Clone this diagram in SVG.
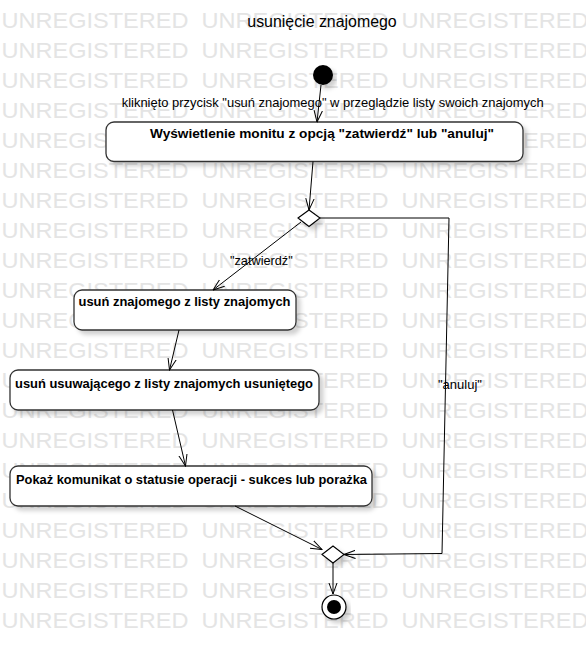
<svg xmlns="http://www.w3.org/2000/svg" width="586" height="659" viewBox="0 0 586 659">
<style>
text{font-family:"Liberation Sans",Arial,sans-serif;fill:#000}
#watermark text{font-size:22px;fill:#e4e4e4}
.title{font-size:16px}
.lbl{font-size:13px}
.act{font-size:13px;font-weight:bold}
.box{fill:#fff;stroke:#333;stroke-width:1.3}
.dia{fill:#fff;stroke:#000;stroke-width:1.1}
.edge{fill:none;stroke:#000;stroke-width:1;marker-end:url(#arr)}
</style>
<defs>
<filter id="sh" x="-10%" y="-20%" width="130%" height="160%">
<feDropShadow dx="4" dy="4" stdDeviation="2" flood-color="#000" flood-opacity="0.18"/>
</filter>
<marker id="arr" viewBox="0 0 12 10" refX="11.5" refY="5" markerWidth="12" markerHeight="10" markerUnits="userSpaceOnUse" orient="auto">
<path d="M0,0.8 L11.5,5 L0,9.2" fill="none" stroke="#000" stroke-width="1"/>
</marker>
</defs>
<rect width="586" height="659" fill="#fff"/>
<g id="watermark">
<text x="1.5" y="28.3" textLength="187" lengthAdjust="spacingAndGlyphs">UNREGISTERED</text><text x="201.5" y="28.3" textLength="187" lengthAdjust="spacingAndGlyphs">UNREGISTERED</text><text x="401.5" y="28.3" textLength="187" lengthAdjust="spacingAndGlyphs">UNREGISTERED</text>
<text x="1.5" y="58.3" textLength="187" lengthAdjust="spacingAndGlyphs">UNREGISTERED</text><text x="201.5" y="58.3" textLength="187" lengthAdjust="spacingAndGlyphs">UNREGISTERED</text><text x="401.5" y="58.3" textLength="187" lengthAdjust="spacingAndGlyphs">UNREGISTERED</text>
<text x="1.5" y="88.3" textLength="187" lengthAdjust="spacingAndGlyphs">UNREGISTERED</text><text x="201.5" y="88.3" textLength="187" lengthAdjust="spacingAndGlyphs">UNREGISTERED</text><text x="401.5" y="88.3" textLength="187" lengthAdjust="spacingAndGlyphs">UNREGISTERED</text>
<text x="1.5" y="118.3" textLength="187" lengthAdjust="spacingAndGlyphs">UNREGISTERED</text><text x="201.5" y="118.3" textLength="187" lengthAdjust="spacingAndGlyphs">UNREGISTERED</text><text x="401.5" y="118.3" textLength="187" lengthAdjust="spacingAndGlyphs">UNREGISTERED</text>
<text x="1.5" y="148.3" textLength="187" lengthAdjust="spacingAndGlyphs">UNREGISTERED</text><text x="201.5" y="148.3" textLength="187" lengthAdjust="spacingAndGlyphs">UNREGISTERED</text><text x="401.5" y="148.3" textLength="187" lengthAdjust="spacingAndGlyphs">UNREGISTERED</text>
<text x="1.5" y="178.3" textLength="187" lengthAdjust="spacingAndGlyphs">UNREGISTERED</text><text x="201.5" y="178.3" textLength="187" lengthAdjust="spacingAndGlyphs">UNREGISTERED</text><text x="401.5" y="178.3" textLength="187" lengthAdjust="spacingAndGlyphs">UNREGISTERED</text>
<text x="1.5" y="208.3" textLength="187" lengthAdjust="spacingAndGlyphs">UNREGISTERED</text><text x="201.5" y="208.3" textLength="187" lengthAdjust="spacingAndGlyphs">UNREGISTERED</text><text x="401.5" y="208.3" textLength="187" lengthAdjust="spacingAndGlyphs">UNREGISTERED</text>
<text x="1.5" y="238.3" textLength="187" lengthAdjust="spacingAndGlyphs">UNREGISTERED</text><text x="201.5" y="238.3" textLength="187" lengthAdjust="spacingAndGlyphs">UNREGISTERED</text><text x="401.5" y="238.3" textLength="187" lengthAdjust="spacingAndGlyphs">UNREGISTERED</text>
<text x="1.5" y="268.3" textLength="187" lengthAdjust="spacingAndGlyphs">UNREGISTERED</text><text x="201.5" y="268.3" textLength="187" lengthAdjust="spacingAndGlyphs">UNREGISTERED</text><text x="401.5" y="268.3" textLength="187" lengthAdjust="spacingAndGlyphs">UNREGISTERED</text>
<text x="1.5" y="298.3" textLength="187" lengthAdjust="spacingAndGlyphs">UNREGISTERED</text><text x="201.5" y="298.3" textLength="187" lengthAdjust="spacingAndGlyphs">UNREGISTERED</text><text x="401.5" y="298.3" textLength="187" lengthAdjust="spacingAndGlyphs">UNREGISTERED</text>
<text x="1.5" y="328.3" textLength="187" lengthAdjust="spacingAndGlyphs">UNREGISTERED</text><text x="201.5" y="328.3" textLength="187" lengthAdjust="spacingAndGlyphs">UNREGISTERED</text><text x="401.5" y="328.3" textLength="187" lengthAdjust="spacingAndGlyphs">UNREGISTERED</text>
<text x="1.5" y="358.3" textLength="187" lengthAdjust="spacingAndGlyphs">UNREGISTERED</text><text x="201.5" y="358.3" textLength="187" lengthAdjust="spacingAndGlyphs">UNREGISTERED</text><text x="401.5" y="358.3" textLength="187" lengthAdjust="spacingAndGlyphs">UNREGISTERED</text>
<text x="1.5" y="388.3" textLength="187" lengthAdjust="spacingAndGlyphs">UNREGISTERED</text><text x="201.5" y="388.3" textLength="187" lengthAdjust="spacingAndGlyphs">UNREGISTERED</text><text x="401.5" y="388.3" textLength="187" lengthAdjust="spacingAndGlyphs">UNREGISTERED</text>
<text x="1.5" y="418.3" textLength="187" lengthAdjust="spacingAndGlyphs">UNREGISTERED</text><text x="201.5" y="418.3" textLength="187" lengthAdjust="spacingAndGlyphs">UNREGISTERED</text><text x="401.5" y="418.3" textLength="187" lengthAdjust="spacingAndGlyphs">UNREGISTERED</text>
<text x="1.5" y="448.3" textLength="187" lengthAdjust="spacingAndGlyphs">UNREGISTERED</text><text x="201.5" y="448.3" textLength="187" lengthAdjust="spacingAndGlyphs">UNREGISTERED</text><text x="401.5" y="448.3" textLength="187" lengthAdjust="spacingAndGlyphs">UNREGISTERED</text>
<text x="1.5" y="478.3" textLength="187" lengthAdjust="spacingAndGlyphs">UNREGISTERED</text><text x="201.5" y="478.3" textLength="187" lengthAdjust="spacingAndGlyphs">UNREGISTERED</text><text x="401.5" y="478.3" textLength="187" lengthAdjust="spacingAndGlyphs">UNREGISTERED</text>
<text x="1.5" y="508.3" textLength="187" lengthAdjust="spacingAndGlyphs">UNREGISTERED</text><text x="201.5" y="508.3" textLength="187" lengthAdjust="spacingAndGlyphs">UNREGISTERED</text><text x="401.5" y="508.3" textLength="187" lengthAdjust="spacingAndGlyphs">UNREGISTERED</text>
<text x="1.5" y="538.3" textLength="187" lengthAdjust="spacingAndGlyphs">UNREGISTERED</text><text x="201.5" y="538.3" textLength="187" lengthAdjust="spacingAndGlyphs">UNREGISTERED</text><text x="401.5" y="538.3" textLength="187" lengthAdjust="spacingAndGlyphs">UNREGISTERED</text>
<text x="1.5" y="568.3" textLength="187" lengthAdjust="spacingAndGlyphs">UNREGISTERED</text><text x="201.5" y="568.3" textLength="187" lengthAdjust="spacingAndGlyphs">UNREGISTERED</text><text x="401.5" y="568.3" textLength="187" lengthAdjust="spacingAndGlyphs">UNREGISTERED</text>
<text x="1.5" y="598.3" textLength="187" lengthAdjust="spacingAndGlyphs">UNREGISTERED</text><text x="201.5" y="598.3" textLength="187" lengthAdjust="spacingAndGlyphs">UNREGISTERED</text><text x="401.5" y="598.3" textLength="187" lengthAdjust="spacingAndGlyphs">UNREGISTERED</text>
<text x="1.5" y="628.3" textLength="187" lengthAdjust="spacingAndGlyphs">UNREGISTERED</text><text x="201.5" y="628.3" textLength="187" lengthAdjust="spacingAndGlyphs">UNREGISTERED</text><text x="401.5" y="628.3" textLength="187" lengthAdjust="spacingAndGlyphs">UNREGISTERED</text>
</g>
<text id="title" class="title" x="247.3" y="26.7" textLength="149.4" lengthAdjust="spacingAndGlyphs">usunięcie znajomego</text>
<g id="node-start"><circle cx="323" cy="75" r="10" fill="#000" filter="url(#sh)"/></g>
<g id="node-display-prompt">
<rect class="box" x="106" y="122" width="417" height="39.5" rx="8" filter="url(#sh)"/>
<text class="act" x="150" y="138" textLength="344" lengthAdjust="spacingAndGlyphs">Wyświetlenie monitu z opcją "zatwierdź" lub "anuluj"</text>
</g>
<g id="node-decision"><polygon class="dia" points="298,218 309,210 320,218 309,226.5" filter="url(#sh)"/></g>
<g id="node-remove-friend">
<rect class="box" x="74" y="290" width="222" height="40" rx="8" filter="url(#sh)"/>
<text class="act" x="78.5" y="305.7" textLength="212" lengthAdjust="spacingAndGlyphs">usuń znajomego z listy znajomych</text>
</g>
<g id="node-remove-self">
<rect class="box" x="10" y="370" width="309" height="40" rx="8" filter="url(#sh)"/>
<text class="act" x="15" y="388.3" textLength="298" lengthAdjust="spacingAndGlyphs">usuń usuwającego z listy znajomych usuniętego</text>
</g>
<g id="node-show-status">
<rect class="box" x="10" y="466" width="362" height="40" rx="8" filter="url(#sh)"/>
<text class="act" x="16" y="483.5" textLength="351" lengthAdjust="spacingAndGlyphs">Pokaż komunikat o statusie operacji - sukces lub porażka</text>
</g>
<g id="node-merge"><polygon class="dia" points="322,554.5 333,546 344,554.5 333,563" filter="url(#sh)"/></g>
<g id="node-end">
<circle cx="334" cy="607" r="12" fill="#fff" stroke="#000" stroke-width="1.2" filter="url(#sh)"/>
<circle cx="334" cy="607" r="7" fill="#000"/>
</g>
<g id="connectors">
<path class="edge" d="M321,85 L317,122"/>
<path class="edge" d="M313,161.5 L309,210"/>
<path class="edge" d="M301,222 L213,290"/>
<path class="edge" d="M320,218 L449,218 L442,553.5 L344,554.5"/>
<path class="edge" d="M179,330 L169.5,370"/>
<path class="edge" d="M172.5,410 L185.5,466"/>
<path class="edge" d="M235,506 L322,549.5"/>
<path class="edge" d="M333,563 L333,594"/>
<text class="lbl" x="121.7" y="106.7" textLength="422" lengthAdjust="spacingAndGlyphs">kliknięto przycisk "usuń znajomego" w przeglądzie listy swoich znajomych</text>
<text class="lbl" x="230" y="265" textLength="62.7" lengthAdjust="spacingAndGlyphs">"zatwierdź"</text>
<text class="lbl" x="438" y="389" textLength="44" lengthAdjust="spacingAndGlyphs">"anuluj"</text>
</g>
</svg>
